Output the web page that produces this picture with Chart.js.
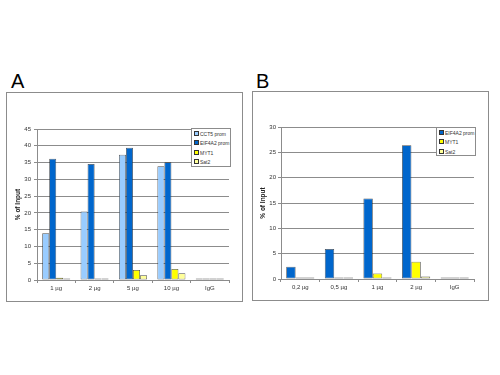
<!DOCTYPE html>
<html>
<head>
<meta charset="utf-8">
<script src="https://cdn.jsdelivr.net/npm/chart.js@4"></script>
<style>
  body { margin: 0; background: #fff; width: 500px; height: 375px; position: relative; overflow: hidden; font-family: "Liberation Sans", Arial, sans-serif; }
  .letter { position: absolute; font-size: 20px; color: #000; line-height: 1; }
  .panel { position: absolute; border: 1px solid #8c8c8c; width: 235px; height: 208px; background: #fff; }
  .panel canvas { display: block; }
  .legend { position: absolute; border: 1px solid #8c8c8c; background: #fff; font-size: 5px; color: #333; box-sizing: border-box; padding: 2px 0 0 2px; }
  .legend div { height: 9.3px; line-height: 5px; white-space: nowrap; }
  .legend span.sw { display: inline-block; width: 3px; height: 3px; border: 0.5px solid #333; margin-right: 1px; vertical-align: 0; }
</style>
</head>
<body>
<div class="letter" style="left:11px; top:71px;">A</div>
<div class="letter" style="left:256px; top:71px;">B</div>

<div class="panel" style="left:6px; top:92px;"><canvas id="chartA" width="235" height="208"></canvas></div>
<div class="panel" style="left:252px; top:91px;"><canvas id="chartB" width="235" height="208"></canvas></div>

<div class="legend" id="legendA" style="left:191px; top:128px; width:40px; height:39px;"></div>
<div class="legend" id="legendB" style="left:436px; top:127px; width:40px; height:29px;"></div>

<script>
// Panel A
const categoriesA = ['1 µg', '2 µg', '5 µg', '10 µg', 'IgG'];
const cct5A = [13.9, 20.4, 37.3, 33.9, 0.1];
const eif4a2A = [36.1, 34.6, 39.4, 35.1, 0.1];
const myt1A = [0.7, 0.1, 3.0, 3.3, 0.1];
const sat2A = [0.4, 0.2, 1.4, 2.0, 0.3];
const yTicksA = { max: 45, step: 5 };

// Panel B
const categoriesB = ['0,2 µg', '0,5 µg', '1 µg', '2 µg', 'IgG'];
const eif4a2B = [2.4, 5.9, 15.9, 26.4, 0.1];
const myt1B = [0.1, 0.1, 1.1, 3.4, 0.1];
const sat2B = [0.1, 0.1, 0.3, 0.5, 0.1];
const yTicksB = { max: 30, step: 5 };

const colors = {
    'CCT5 prom': '#99ccff',
    'EIF4A2 prom': '#0066cc',
    'MYT1': '#ffff00',
    'Sat2': '#ffff99'
};

function dataset(name, values) {
    return {
        label: name,
        data: values,
        backgroundColor: colors[name],
        borderColor: 'rgba(30,30,30,0.8)',
        borderWidth: 0.75,
        borderSkipped: false,
        minBarLength: 1.5,  // keep near-zero bars visible as a thin line
        categoryPercentage: 0.73,
        barPercentage: 1
    };
}

function makeChart(id, labels, datasets, yTicks, opts) {
    const ctx = document.getElementById(id).getContext('2d');
    return new Chart(ctx, {
        type: 'bar',
        data: { labels: labels, datasets: datasets },
        options: {
            responsive: false,
            animation: false,
            layout: { padding: { left: 0, right: opts.right, top: opts.top, bottom: 7 } },
            plugins: { legend: { display: false }, tooltip: { enabled: false } },
            scales: {
                x: {
                    grid: { display: true, offset: true, drawOnChartArea: false, drawTicks: true, tickLength: 3, color: '#8c8c8c' },
                    border: { color: '#8c8c8c', width: 1 },
                    ticks: { font: { family: 'Liberation Sans', size: 6 }, color: '#333', padding: 2, maxRotation: 0 },
                    afterFit: function (scale) { scale.height = 14; }
                },
                y: {
                    min: 0,
                    max: yTicks.max,
                    grid: { color: '#8c8c8c', lineWidth: 1, tickLength: 3 },
                    border: { color: '#8c8c8c', width: 1 },
                    ticks: { stepSize: yTicks.step, font: { family: 'Liberation Sans', size: 6 }, color: '#333', padding: opts.tickPad },
                    title: {
                        display: true,
                        text: '% of Input',
                        font: { family: 'Liberation Sans', size: 6.5, weight: 'bold' },
                        color: '#222',
                        padding: { top: opts.titlePad, bottom: 0 }
                    },
                    afterFit: function (scale) { scale.width = opts.yWidth; }
                }
            }
        }
    });
}

function buildLegend(id, datasets) {
    const box = document.getElementById(id);
    datasets.forEach(function (ds) {
        const row = document.createElement('div');
        const sw = document.createElement('span');
        sw.className = 'sw';
        sw.style.background = ds.backgroundColor;
        row.appendChild(sw);
        row.appendChild(document.createTextNode(ds.label));
        box.appendChild(row);
    });
}

const dsA = [
    dataset('CCT5 prom', cct5A),
    dataset('EIF4A2 prom', eif4a2A),
    dataset('MYT1', myt1A),
    dataset('Sat2', sat2A)
];
const dsB = [
    dataset('EIF4A2 prom', eif4a2B),
    dataset('MYT1', myt1B),
    dataset('Sat2', sat2B)
];

makeChart('chartA', categoriesA, dsA, yTicksA, { yWidth: 30, right: 13, top: 36, tickPad: 3, titlePad: 7 });
makeChart('chartB', categoriesB, dsB, yTicksB, { yWidth: 28, right: 14, top: 35, tickPad: 2, titlePad: 6 });

buildLegend('legendA', dsA);
buildLegend('legendB', dsB);
</script>
</body>
</html>
